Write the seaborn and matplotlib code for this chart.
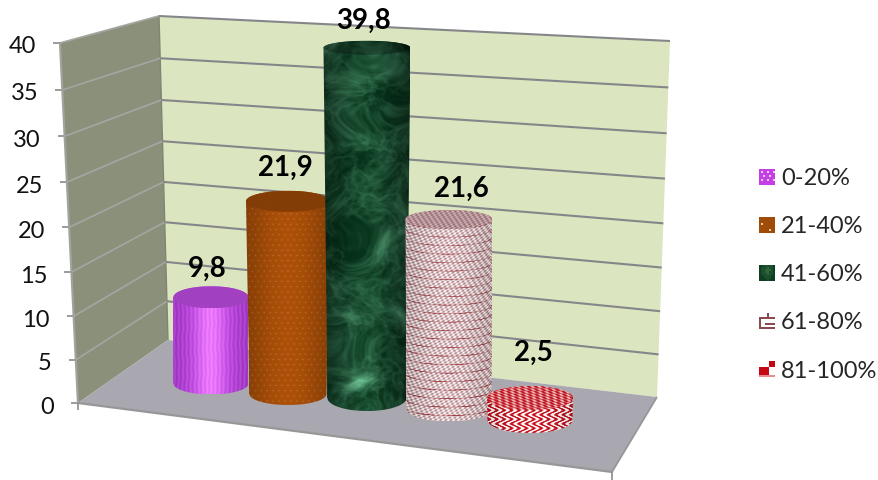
import numpy as np
import pandas as pd
import matplotlib
matplotlib.use("Agg")
import matplotlib.pyplot as plt
from matplotlib.patches import Polygon, Rectangle
from matplotlib.legend_handler import HandlerBase
import seaborn as sns

# Share of respondents per score band
BANDS = ["0-20%", "21-40%", "41-60%", "61-80%", "81-100%"]
VALUES = [9.8, 21.9, 39.8, 21.6, 2.5]
TICKS = [0, 5, 10, 15, 20, 25, 30, 35, 40]

BASE_COLORS = ["#b848e0", "#a04c0a", "#145030", "#d8b4b6", "#d8505a"]

# Oblique-view layout, in figure pixels
W, H = 879, 480
PX = 8.8  # pixels per value unit
CENTER_X = [211, 288, 367, 449, 530]
BASE_Y = [383.5, 394, 398, 409.5, 420]
TOP_HALF_W = [37.5, 42, 43.5, 43.5, 43]
BOT_HALF_W = [37.5, 38.5, 39.5, 42.5, 42.5]
TOP_HALF_H = [11, 10.5, 7, 9.5, 12]
BOT_HALF_H = [11, 11, 13, 12, 13]
LABEL_LIFT = [28, 33, 27, 31, 45]
LABEL_X = [207, 285, 364, 461, 533]

C_SIDE = "#8a9079"
C_BACK = "#dbe5bf"
C_FLOOR = "#a9a7b0"
C_LINE = "#8d8d8d"

sns.set_theme(style="white")
plt.rcParams["font.family"] = ["Lato", "DejaVu Sans"]


def Y(py):
    return (H - np.asarray(py, dtype=float)) / PX


def edge(v, p0, p40, w=1.05):
    """Point at value v on an upright edge seen in perspective."""
    t = v / 40.0
    s = t / (t + w * (1 - t))
    return p0[0] + (p40[0] - p0[0]) * s, p0[1] + (p40[1] - p0[1]) * s


FRONT0, FRONT40 = (78, 403), (60, 43)
CORNER0, CORNER40 = (168, 340), (159, 16)
RIGHT0, RIGHT40 = (657, 397), (670, 41)
FLOOR_FRONT_R = (612, 472)


def poly(ax, pts, color, z):
    xy = np.array([(x, Y(y)) for x, y in pts])
    ax.add_patch(Polygon(xy, closed=True, facecolor=color, edgecolor="none", zorder=z))


def seg(ax, a, b, color=C_LINE, lw=1.4, z=2, alpha=1.0):
    ax.plot([a[0], b[0]], [Y(a[1]), Y(b[1])], color=color, lw=lw, zorder=z, alpha=alpha,
            solid_capstyle="butt")


# ---- surface textures -------------------------------------------------------
def hex_rgb(c):
    return np.array(matplotlib.colors.to_rgb(c))


def mix(a, b, t):
    t = np.clip(t, 0, 1)[..., None]
    return hex_rgb(a) * (1 - t) + hex_rgb(b) * t


def grid(hw, hh):
    xs = np.arange(int(2 * hw) + 1, dtype=float)
    ys = np.arange(int(hh) + 1, dtype=float)
    x, y = np.meshgrid(xs, ys)
    n = (x - hw) / hw
    return x, y, n


def cyl_light(n, lo=0.72, hi=1.12):
    return lo + (hi - lo) * np.cos(np.clip(n, -1, 1) * np.pi / 2) ** 1.2


def cloud_field(x, y, scale, count=14, shift=0.0):
    """Many sines in golden-angle directions, giving an irregular cloudy field."""
    out = np.zeros_like(x)
    for k in range(count):
        ang = k * 2.39996 + shift
        freq = scale * (1 + 0.37 * k)
        out += np.sin(freq * (x * np.cos(ang) + y * np.sin(ang)) + 1.7 * k * k + shift) / (1 + 0.37 * k) ** 0.6
    return out / np.sqrt(count)


def tex_purple(hw, hh):
    x, y, n = grid(hw, hh)
    wob = 0.10 * np.sin(y / 7.5) + 0.07 * np.sin(y / 2.6 + x / 15)
    wav = np.sin(2 * np.pi * (n * 9 + wob))
    glow = np.exp(-(n / 0.42) ** 2)
    img = mix("#a832d4", "#ee80fa", 0.22 + 0.16 * wav + 0.62 * glow)
    return np.clip(img * cyl_light(n, 0.90, 1.04)[..., None], 0, 1)


def dots(x, y, px=6.0, py=5.2):
    row = np.floor(y / py)
    xx = (x + row * px / 2) % px - px / 2
    yy = y % py - py / 2
    return np.exp(-(xx ** 2 + yy ** 2) / 0.6)


def tex_orange(hw, hh):
    x, y, n = grid(hw, hh)
    img = mix("#a94e08", "#e0b080", dots(x, y) * 0.38)
    return np.clip(img * cyl_light(n, 0.80, 1.02)[..., None], 0, 1)


def tex_green(hw, hh):
    x, y, n = grid(hw, hh)
    # warped coordinates break up the regular look of the sine sum
    x2 = x + 16 * cloud_field(x, y, 0.035, 9, 0.9)
    y2 = y + 16 * cloud_field(x, y, 0.035, 9, 3.1)
    broad = cloud_field(x2, y2, 0.05, 10, 0.4)
    fine = cloud_field(x2, y2, 0.30, 14, 1.3)
    fib = 1 - np.abs(cloud_field(x2, y2, 0.11, 12, 2.2))
    t = 0.17 + 0.17 * broad + 0.10 * fine + 0.32 * np.clip(fib - 0.55, 0, 1)
    t = t + 0.60 * np.clip(broad - 0.6, 0, 1)
    img = mix("#063019", "#66b58a", t)
    return np.clip(img * cyl_light(n, 0.62, 1.06)[..., None], 0, 1)


def tex_pink(hw, hh):
    x, y, n = grid(hw, hh)
    yc = y + 8 * (1 - np.sqrt(np.clip(1 - n ** 2, 0, 1)))
    dash = np.sin(2 * np.pi * (x / 5.2 + yc / 9.0)) * np.sin(2 * np.pi * yc / 4.6)
    img = mix("#a46a70", "#ffffff", 0.60 + 0.55 * dash)
    line = np.clip((np.sin(2 * np.pi * yc / 8.5) - 0.86) * 8, 0, 1)
    gate = 0.5 + 0.5 * np.sin(2 * np.pi * (x / 31.0 + yc / 24.0))
    line = line * (0.25 + 0.55 * gate * (y / y.max() * 0.5 + 0.5))
    img = img * (1 - line[..., None]) + hex_rgb("#8c1c20") * line[..., None]
    return np.clip(img * cyl_light(n, 0.86, 1.02)[..., None], 0, 1)


def tex_red(hw, hh):
    x, y, n = grid(hw, hh)
    zig = np.sin(2 * np.pi * (x / 7.5 + 0.5 * np.sin(2 * np.pi * y / 9.0)))
    img = mix("#c4101c", "#ffffff", 0.5 + 0.9 * zig)
    return np.clip(img * cyl_light(n, 0.88, 1.02)[..., None], 0, 1)


def cap_purple(hw, hh):
    x, y, n = grid(hw, hh)
    return mix("#9c3cbc", "#a846c8", 0.5 + 0.5 * np.sin(x * 2.1) * np.sin(y * 2.3))


def cap_orange(hw, hh):
    x, y, n = grid(hw, hh)
    return mix("#7c3806", "#8a4208", 0.5 + 0.5 * np.sin(x * 2.2) * np.sin(y * 2.4))


def cap_green(hw, hh):
    return tex_green(hw, hh) * 0.72


def cap_pink(hw, hh):
    x, y, n = grid(hw, hh)
    return mix("#8e5e64", "#d8c4c6", 0.5 + 0.7 * np.sin(x * 1.2 + y * 0.8) * np.sin(y * 1.6))


def cap_red(hw, hh):
    x, y, n = grid(hw, hh)
    zig = np.sin(2 * np.pi * (x / 7.0 - y / 5.0))
    return mix("#c01420", "#f0c8c8", 0.38 + 0.75 * zig * np.sin(2 * np.pi * y / 5.5))


BODY_TEX = [tex_purple, tex_orange, tex_green, tex_pink, tex_red]
CAP_TEX = [cap_purple, cap_orange, cap_green, cap_pink, cap_red]


def ellipse_arc(cx, cy, a, b, t0, t1, n=60):
    t = np.linspace(t0, t1, n)
    return np.column_stack([cx + a * np.cos(t), cy + b * np.sin(t)])


def textured(ax, img, x0, x1, y0, y1, outline, z):
    im = ax.imshow(img, extent=[x0, x1, Y(y1), Y(y0)], origin="upper", aspect="auto",
                   interpolation="bilinear", zorder=z)
    xy = outline.copy()
    xy[:, 1] = Y(xy[:, 1])
    im.set_clip_path(Polygon(xy, closed=True, transform=ax.transData))


# ---- figure -----------------------------------------------------------------
fig = plt.figure(figsize=(W / 100, H / 100), dpi=100, facecolor="white")
ax = fig.add_axes([0, 0, 1, 1])

df = pd.DataFrame({"band": BANDS, "value": VALUES, "pos": CENTER_X})
sns.barplot(data=df, x="pos", y="value", hue="band", hue_order=BANDS, palette=BASE_COLORS,
            native_scale=True, dodge=False, legend=False, width=1.0, ax=ax, saturation=1)

# walls and floor
poly(ax, [FRONT0, FRONT40, CORNER40, CORNER0], C_SIDE, 0.5)
poly(ax, [CORNER0, CORNER40, RIGHT40, RIGHT0], C_BACK, 0.5)
poly(ax, [FRONT0, CORNER0, RIGHT0, FLOOR_FRONT_R], C_FLOOR, 0.6)

# gridlines run along both walls from each tick
TICK_FS = 17
for v in TICKS:
    a, b, c = edge(v, FRONT0, FRONT40), edge(v, CORNER0, CORNER40), edge(v, RIGHT0, RIGHT40)
    if v > 0:
        seg(ax, a, b, color="#a3a5a0", lw=1.3)
        seg(ax, b, c, color="#85868a", lw=1.5)
    seg(ax, (a[0] - 7, a[1]), a, color="#8a8a8a", lw=1.2)
    ax.text(a[0] - 24, Y(a[1] + 4), str(v), ha="right", va="center", fontsize=TICK_FS, color="#111111")

seg(ax, FRONT0, FRONT40, color="#a0a29c", lw=1.6)
seg(ax, FRONT0, (FRONT0[0], FRONT0[1] + 7), color="#8a8a8a", lw=1.2)
seg(ax, FLOOR_FRONT_R, (FLOOR_FRONT_R[0], 480), color="#8a8a8a", lw=1.2)
seg(ax, FRONT0, FLOOR_FRONT_R, color="#979797", lw=1.6, z=1)
seg(ax, FLOOR_FRONT_R, RIGHT0, color="#979797", lw=1.3, z=1)
seg(ax, CORNER0, CORNER40, color="#7f8474", lw=1.0, z=1)

# cylinders: bar plus shaded body and cap, front ones overlapping those behind
for i, (bar, val) in enumerate(zip(ax.patches[:len(VALUES)], VALUES)):
    cx = CENTER_X[i]
    base = BASE_Y[i]
    top = base - val * PX
    tw, bw, th, bh = TOP_HALF_W[i], BOT_HALF_W[i], TOP_HALF_H[i], BOT_HALF_H[i]
    z = 3 + i
    bar.set_x(cx - bw)
    bar.set_width(2 * bw)
    bar.set_y(Y(base))
    bar.set_zorder(z)
    bar.set_edgecolor("none")

    lower = ellipse_arc(cx, base, bw, bh, 0, np.pi)
    upper = ellipse_arc(cx, top, tw, th, np.pi, 2 * np.pi)
    outline = np.vstack([lower, upper])

    wmax = max(tw, bw)
    y0, y1 = top - th, base + bh
    body = BODY_TEX[i](wmax, y1 - y0)
    textured(ax, body, cx - wmax, cx + wmax, y0, y1, outline, z + 0.1)

    cap_outline = ellipse_arc(cx, top, tw, th, 0, 2 * np.pi, 90)
    cap = CAP_TEX[i](tw, 2 * th)
    textured(ax, cap, cx - tw, cx + tw, top - th, top + th, cap_outline, z + 0.2)

    ax.text(LABEL_X[i], Y(top - LABEL_LIFT[i]), f"{val:.1f}".replace(".", ","),
            ha="center", va="center", fontsize=20, fontweight="bold", color="black", zorder=20)


# ---- legend swatches --------------------------------------------------------
class Swatch:
    def __init__(self, rows, palette):
        self.rows, self.palette = rows, palette


class SwatchHandler(HandlerBase):
    def create_artists(self, legend, handle, xd, yd, width, height, fontsize, trans):
        rows = handle.rows
        n_r, n_c = len(rows), len(rows[0])
        out = []
        for r, line in enumerate(rows):
            for c, ch in enumerate(line):
                out.append(Rectangle((-xd + width * c / n_c, -yd + height * (n_r - 1 - r) / n_r),
                                     width / n_c + 0.05, height / n_r + 0.05,
                                     facecolor=handle.palette[ch], edgecolor="none", transform=trans))
        return out


SWATCHES = [
    Swatch(["pppppppp", "pwppwppw", "pppppppp", "ppwppwpp", "pppppppp", "pwppwppw", "pppppppp", "pppppppp"],
           {"p": "#c63ee8", "w": "#ecd0f4"}),
    Swatch(["bbbbbbbb", "bbbbbbbb", "bbbbbbbb", "bwbbbbbb", "bbbbbbbb", "bbbbbbbb", "bbbbbwbb", "bbbbbbbb"],
           {"b": "#9e4c08", "w": "#e8c8a8"}),
    Swatch(["ddgggggd", "dgggGggd", "dggGGGgd", "dggGGggd", "dgggGggd", "ddggggdd", "dddgggdd", "ddddgddd"],
           {"d": "#0f3d20", "g": "#1c4f2c", "G": "#2f6640"}),
    Swatch(["....r...", "....r...", "rrrrrrrr", "r.......", "r.......", "r..rrrrr", "r.......", "rrrrrrrr"],
           {".": "#ffffff", "r": "#8a4a50"}),
    Swatch([".....RRR", ".....RRR", ".....RRR", "RRRRR...", "RRRRR...", "RRRRR...", "RRRRR...", "pppppppp"],
           {".": "#ffffff", "R": "#c40814", "p": "#e88c90"}),
]
FS = 17
fpx = FS * 100 / 72
leg = fig.legend(SWATCHES, BANDS,
                 handler_map={Swatch: SwatchHandler()},
                 loc="upper left", bbox_to_anchor=(759 / W, 1 - 168 / H), bbox_transform=fig.transFigure,
                 frameon=False, fontsize=FS, handlelength=16 / fpx, handleheight=16 / fpx,
                 handletextpad=6 / fpx, labelspacing=1.15, borderpad=0, borderaxespad=0)

ax.set_xlim(0, W)
ax.set_ylim(0, H / PX)
ax.axis("off")
fig.savefig("out.png", dpi=100, facecolor="white")
